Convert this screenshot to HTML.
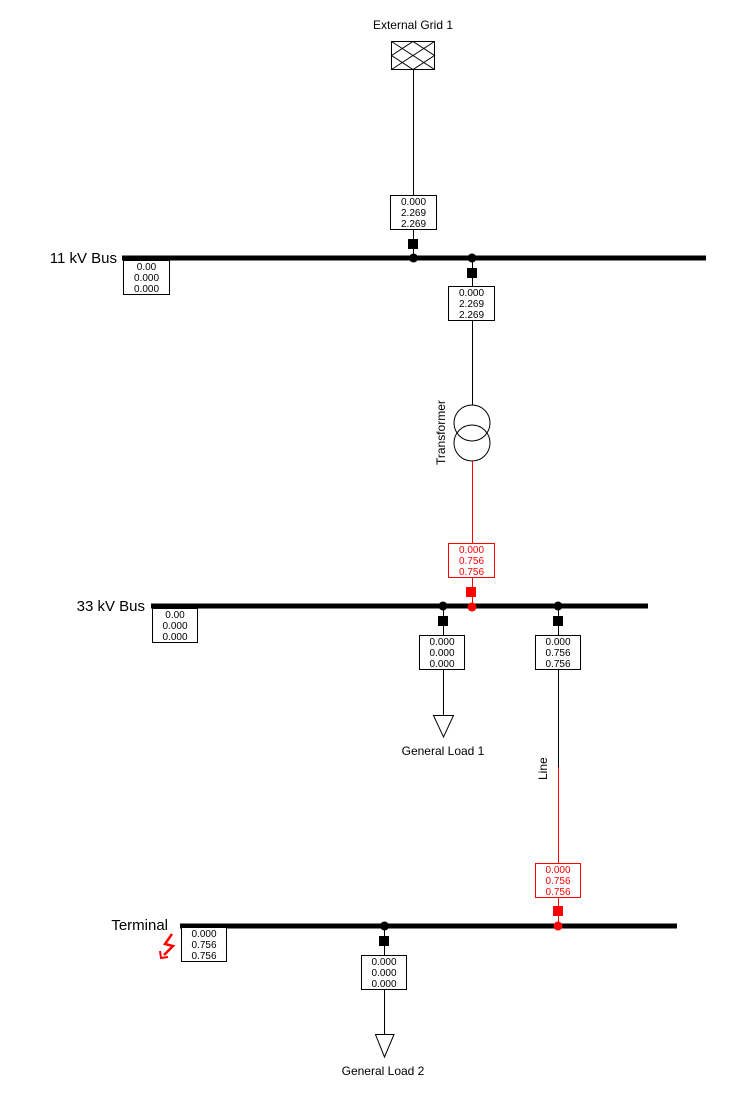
<!DOCTYPE html>
<html><head><meta charset="utf-8"><style>
html,body{margin:0;padding:0;background:#fff;}
svg{display:block;}
text{font-family:"Liberation Sans",sans-serif;}
.v{font-size:10px;text-anchor:middle;}
</style></head><body>
<svg width="739" height="1105" viewBox="0 0 739 1105" xmlns="http://www.w3.org/2000/svg">
<!-- External grid -->
<text x="413" y="29" font-size="12" text-anchor="middle">External Grid 1</text>
<rect x="391.5" y="41.5" width="43" height="28" fill="#fff" stroke="#000"/>
<path d="M391.5 41.5 L434.5 69.5 M434.5 41.5 L391.5 69.5 M391.5 55.5 L413 41.5 L434.5 55.5 L413 69.5 Z" stroke="#000" fill="none"/>
<line x1="413.5" y1="69" x2="413.5" y2="258" stroke="#000"/>
<rect x="390.5" y="195.5" width="46" height="34" fill="#fff" stroke="#000"/>
<text class="v" x="413.5" y="205">0.000</text><text class="v" x="413.5" y="216">2.269</text><text class="v" x="413.5" y="227">2.269</text>
<rect x="408" y="239" width="10" height="10" fill="#000"/>

<!-- 11 kV bus -->
<text x="117" y="263" font-size="15" text-anchor="end">11 kV Bus</text>
<line x1="122" y1="258" x2="706" y2="258" stroke="#000" stroke-width="5"/>
<circle cx="413.5" cy="258" r="4.5" fill="#000"/>
<circle cx="472" cy="258" r="4.5" fill="#000"/>
<rect x="123.5" y="260.5" width="46" height="34" fill="#fff" stroke="#000"/>
<text class="v" x="146.5" y="270">0.00</text><text class="v" x="146.5" y="281">0.000</text><text class="v" x="146.5" y="292">0.000</text>

<!-- Transformer -->
<line x1="472.5" y1="258" x2="472.5" y2="405" stroke="#000"/>
<rect x="467" y="268" width="10" height="10" fill="#000"/>
<rect x="448.5" y="286.5" width="46" height="34" fill="#fff" stroke="#000"/>
<text class="v" x="471.5" y="296">0.000</text><text class="v" x="471.5" y="307">2.269</text><text class="v" x="471.5" y="318">2.269</text>
<circle cx="472" cy="423" r="18" fill="none" stroke="#000"/>
<circle cx="472" cy="443" r="18" fill="none" stroke="#000"/>
<text x="0" y="0" font-size="12" transform="translate(445,465) rotate(-90)">Transformer</text>
<line x1="472.5" y1="461" x2="472.5" y2="606" stroke="#f00"/>
<rect x="448.5" y="543.5" width="46" height="34" fill="#fff" stroke="#f00"/>
<text class="v" x="471.5" y="553" fill="#f00">0.000</text><text class="v" x="471.5" y="564" fill="#f00">0.756</text><text class="v" x="471.5" y="575" fill="#f00">0.756</text>
<rect x="466" y="587" width="10" height="10" fill="#f00"/>

<!-- 33 kV bus -->
<text x="145" y="611" font-size="15" text-anchor="end">33 kV Bus</text>
<line x1="151" y1="606" x2="648" y2="606" stroke="#000" stroke-width="5"/>
<circle cx="472" cy="607" r="4.5" fill="#f00"/>
<circle cx="443" cy="606" r="4.5" fill="#000"/>
<circle cx="558" cy="606" r="4.5" fill="#000"/>
<rect x="152.5" y="608.5" width="45" height="34" fill="#fff" stroke="#000"/>
<text class="v" x="175" y="618">0.00</text><text class="v" x="175" y="629">0.000</text><text class="v" x="175" y="640">0.000</text>

<!-- Load 1 -->
<line x1="443.5" y1="606" x2="443.5" y2="715" stroke="#000"/>
<rect x="438" y="616" width="10" height="10" fill="#000"/>
<rect x="419.5" y="635.5" width="45" height="34" fill="#fff" stroke="#000"/>
<text class="v" x="442" y="645">0.000</text><text class="v" x="442" y="656">0.000</text><text class="v" x="442" y="667">0.000</text>
<path d="M433.5 715.5 L453.5 715.5 L443.5 737 Z" fill="#fff" stroke="#000"/>
<text x="443" y="755" font-size="12" text-anchor="middle">General Load 1</text>

<!-- Line -->
<line x1="558.5" y1="606" x2="558.5" y2="767" stroke="#000"/>
<line x1="558.5" y1="767" x2="558.5" y2="926" stroke="#f00"/>
<rect x="553" y="616" width="10" height="10" fill="#000"/>
<rect x="535.5" y="635.5" width="45" height="34" fill="#fff" stroke="#000"/>
<text class="v" x="558" y="645">0.000</text><text class="v" x="558" y="656">0.756</text><text class="v" x="558" y="667">0.756</text>
<text x="0" y="0" font-size="12" transform="translate(547,780) rotate(-90)">Line</text>
<rect x="535.5" y="863.5" width="45" height="34" fill="#fff" stroke="#f00"/>
<text class="v" x="558" y="873" fill="#f00">0.000</text><text class="v" x="558" y="884" fill="#f00">0.756</text><text class="v" x="558" y="895" fill="#f00">0.756</text>
<rect x="553" y="906" width="10" height="10" fill="#f00"/>

<!-- Terminal -->
<text x="168" y="930" font-size="15" text-anchor="end">Terminal</text>
<line x1="180" y1="926" x2="677" y2="926" stroke="#000" stroke-width="5"/>
<circle cx="558" cy="926" r="4.5" fill="#f00"/>
<circle cx="384.5" cy="926" r="4.5" fill="#000"/>
<rect x="181.5" y="927.5" width="45" height="34" fill="#fff" stroke="#000"/>
<text class="v" x="204" y="937">0.000</text><text class="v" x="204" y="948">0.756</text><text class="v" x="204" y="959">0.756</text>
<path d="M172 934 L165 944 L173 946 L164 955" fill="none" stroke="#f00" stroke-width="2.5"/>
<path d="M160 951 L161 958 L168 957" fill="none" stroke="#f00" stroke-width="2"/>

<!-- Load 2 -->
<line x1="384.5" y1="926" x2="384.5" y2="1034" stroke="#000"/>
<rect x="379" y="936" width="10" height="10" fill="#000"/>
<rect x="361.5" y="955.5" width="45" height="34" fill="#fff" stroke="#000"/>
<text class="v" x="384" y="965">0.000</text><text class="v" x="384" y="976">0.000</text><text class="v" x="384" y="987">0.000</text>
<path d="M375.5 1034.5 L394 1034.5 L384.5 1057 Z" fill="#fff" stroke="#000"/>
<text x="383" y="1075" font-size="12" text-anchor="middle">General Load 2</text>
</svg>
</body></html>
